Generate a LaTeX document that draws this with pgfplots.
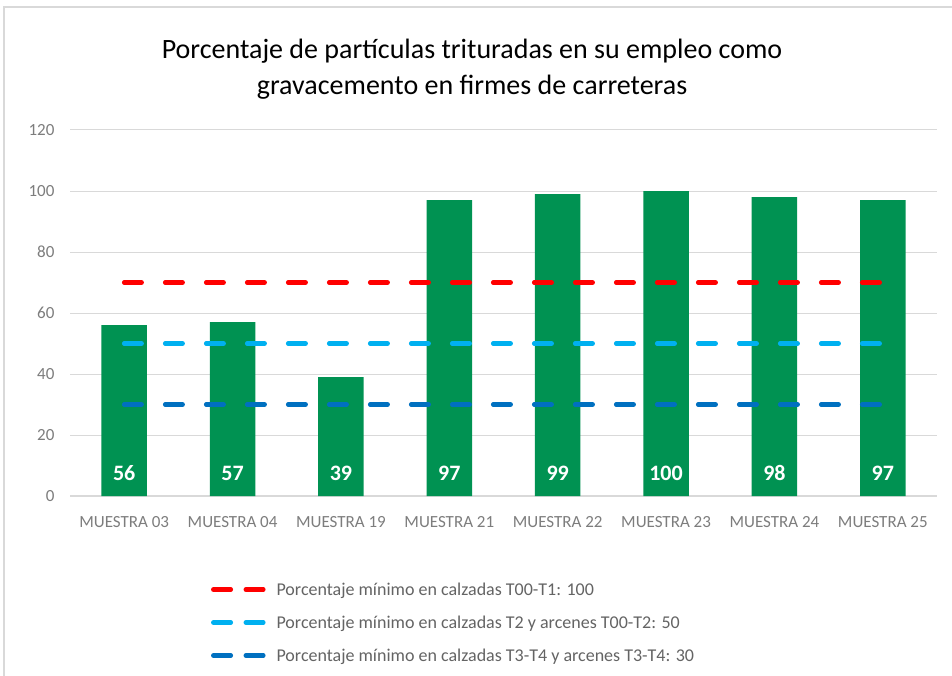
\documentclass[border=0pt]{standalone}
\usepackage{fontspec}
\setmainfont{Carlito}
\usepackage{pgfplots}
\pgfplotsset{compat=1.18}
\definecolor{barg}{RGB}{0,146,82}
\definecolor{redl}{RGB}{255,0,0}
\definecolor{lblue}{RGB}{0,176,240}
\definecolor{dblue}{RGB}{0,112,192}
\definecolor{txtgray}{RGB}{125,125,125}
\definecolor{leggray}{RGB}{100,100,100}
\definecolor{gridg}{RGB}{217,217,217}
\begin{document}
\begin{tikzpicture}
\useasboundingbox (0,0) rectangle (952pt,675pt);
\fill[white] (0,0) rectangle (952pt,675pt);
\draw[gridg, line width=1.5pt] (4pt,-5pt) -- (4pt,668pt) -- (960pt,668pt);
\node[font=\fontsize{28}{32}\selectfont, inner sep=0pt] at (472pt,624pt) {Porcentaje de partículas trituradas en su empleo como};
\node[font=\fontsize{28}{32}\selectfont, inner sep=0pt] at (472pt,588pt) {gravacemento en firmes de carreteras};
\begin{axis}[
  at={(70pt,179pt)}, anchor=south west,
  scale only axis, width=867pt, height=366pt,
  xmin=-0.5, xmax=7.5, ymin=0, ymax=120,
  ytick={0,20,...,120},
  xtick={0,...,7},
  xticklabels={MUESTRA 03,MUESTRA 04,MUESTRA 19,MUESTRA 21,MUESTRA 22,MUESTRA 23,MUESTRA 24,MUESTRA 25},
  /pgf/number format/assume math mode=true,
  tick label style={font=\fontsize{17}{19}\selectfont, text=txtgray},
  yticklabel style={xshift=-12pt},
  xticklabel style={yshift=-17pt},
  major tick length=0pt,
  axis x line*=bottom,
  axis y line*=left,
  separate axis lines,
  x axis line style={draw=gridg, line width=1.2pt, -},
  y axis line style={draw=none},
  ymajorgrids,
  grid style={draw=gridg, line width=1pt},
  legend style={at={(0.159,-0.225)}, anchor=north west, draw=none, fill=none,
    font=\fontsize{18}{21}\selectfont, text=leggray, row sep=15pt,
    /tikz/every odd column/.append style={column sep=9pt}},
  legend cell align=left,
  legend image code/.code={\draw[#1, dash pattern=on 17.5pt off 15pt] (0pt,0pt) -- (50pt,0pt);},
  clip=false,
]
\addplot[ybar, bar width=0.42, fill=barg, draw=none, forget plot] coordinates {
(0,56) (1,57) (2,39) (3,97) (4,99) (5,100) (6,98) (7,97)};
\addplot[draw=none, mark=none, forget plot, nodes near coords, point meta=explicit,
  every node near coord/.append style={anchor=center, text=white, font=\bfseries\fontsize{22}{24}\selectfont}]
  table[meta=v] {
x y v
0 7.4 56
1 7.4 57
2 7.4 39
3 7.4 97
4 7.4 99
5 7.4 100
6 7.4 98
7 7.4 97
};
\addplot[redl, line width=4.5pt, line cap=round, dash pattern=on 17.5pt off 23.5pt] coordinates {(0,70) (7,70)};
\addlegendentry{Porcentaje mínimo en calzadas T00-T1: 100}
\addplot[lblue, line width=4.5pt, line cap=round, dash pattern=on 17.5pt off 23.5pt] coordinates {(0,50) (7,50)};
\addlegendentry{Porcentaje mínimo en calzadas T2 y arcenes T00-T2: 50}
\addplot[dblue, line width=4.5pt, line cap=round, dash pattern=on 17.5pt off 23.5pt] coordinates {(0,30) (7,30)};
\addlegendentry{Porcentaje mínimo en calzadas T3-T4 y arcenes T3-T4: 30}
\end{axis}
\end{tikzpicture}
\end{document}
